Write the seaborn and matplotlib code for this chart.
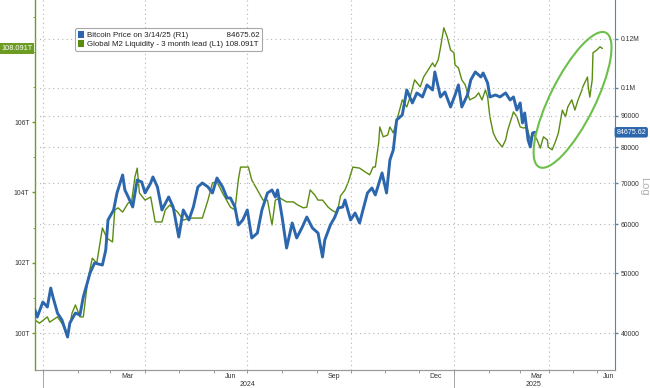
import numpy as np
import pandas as pd
import matplotlib
matplotlib.use("Agg")
import matplotlib.pyplot as plt
import matplotlib.dates as mdates
import matplotlib.ticker as mticker
from matplotlib.patches import Ellipse, Patch
import seaborn as sns

# Bitcoin price (R1, log scale)
btc_dates = [
    "2023-12-25", "2023-12-27", "2024-01-01", "2024-01-05", "2024-01-08", "2024-01-10",
    "2024-01-14", "2024-01-18", "2024-01-23", "2024-01-25", "2024-01-30", "2024-02-03",
    "2024-02-06", "2024-02-12", "2024-02-16", "2024-02-23", "2024-02-26", "2024-02-28",
    "2024-03-04", "2024-03-07", "2024-03-12", "2024-03-14", "2024-03-17", "2024-03-21",
    "2024-03-25", "2024-03-29", "2024-04-01", "2024-04-06", "2024-04-08", "2024-04-12",
    "2024-04-16", "2024-04-22", "2024-04-26", "2024-05-01", "2024-05-05", "2024-05-10",
    "2024-05-14", "2024-05-18", "2024-05-22", "2024-05-27", "2024-05-31", "2024-06-04",
    "2024-06-09", "2024-06-13", "2024-06-16", "2024-06-20", "2024-06-23", "2024-06-27",
    "2024-07-01", "2024-07-05", "2024-07-10", "2024-07-14", "2024-07-19", "2024-07-23",
    "2024-07-26", "2024-07-28", "2024-08-01", "2024-08-05", "2024-08-10", "2024-08-14",
    "2024-08-19", "2024-08-23", "2024-08-28", "2024-09-02", "2024-09-06", "2024-09-08",
    "2024-09-13", "2024-09-17", "2024-09-20", "2024-09-24", "2024-09-26", "2024-10-01",
    "2024-10-05", "2024-10-09", "2024-10-12", "2024-10-16", "2024-10-20", "2024-10-23",
    "2024-10-29", "2024-11-02", "2024-11-05", "2024-11-08", "2024-11-11", "2024-11-16",
    "2024-11-20", "2024-11-25", "2024-11-29", "2024-12-04", "2024-12-08", "2024-12-13",
    "2024-12-15", "2024-12-20", "2024-12-24", "2024-12-29", "2025-01-02", "2025-01-05",
    "2025-01-08", "2025-01-13", "2025-01-16", "2025-01-20", "2025-01-25", "2025-01-27",
    "2025-01-31", "2025-02-02", "2025-02-07", "2025-02-11", "2025-02-16", "2025-02-20",
    "2025-02-23", "2025-02-26", "2025-03-01", "2025-03-03", "2025-03-05", "2025-03-08",
    "2025-03-10", "2025-03-12", "2025-03-14",
]
btc_price = [
    43590, 42460, 44910, 44080, 47320, 45760,
    43100, 41990, 39410, 41520, 43100, 42780,
    45760, 50050, 51960, 51570, 54550, 61020,
    63340, 67500, 72190, 68260, 66500, 64060,
    70860, 70330, 67500, 70070, 71660, 69030,
    63340, 66500, 64060, 57260, 63340, 61020,
    64060, 69030, 70070, 69030, 67500, 71390,
    69030, 66250, 66250, 64060, 59890, 61020,
    63340, 57050, 58120, 63340, 67500, 68260,
    66500, 68260, 61700, 54950, 60340, 57050,
    59440, 61700, 59220, 58120, 53140, 56620,
    59890, 61700, 63820, 64060, 65750, 61020,
    62630, 60340, 63340, 67500, 68770, 67000,
    72740, 67500, 76360, 79270, 88670, 90340,
    99180, 94480, 98080, 96620, 101060, 99180,
    106080, 96620, 98440, 93070, 97350, 101060,
    93070, 97350, 102960, 106080, 104120, 105680,
    101810, 96620, 97350, 96620, 98080, 95540,
    96620, 92040, 94480, 87680, 91020, 82280,
    80160, 84460, 84675.62,
]

# Global M2 liquidity, 3 month lead (L1, trillions)
m2_dates = [
    "2023-12-25", "2023-12-29", "2024-01-05", "2024-01-07", "2024-01-14", "2024-01-19",
    "2024-01-23", "2024-01-27", "2024-01-30", "2024-02-03", "2024-02-06", "2024-02-10",
    "2024-02-14", "2024-02-18", "2024-02-23", "2024-02-27", "2024-03-03", "2024-03-05",
    "2024-03-08", "2024-03-12", "2024-03-17", "2024-03-20", "2024-03-23", "2024-03-25",
    "2024-03-27", "2024-04-01", "2024-04-06", "2024-04-10", "2024-04-16", "2024-04-19",
    "2024-04-23", "2024-04-30", "2024-05-05", "2024-05-11", "2024-05-22", "2024-05-27",
    "2024-05-31", "2024-06-04", "2024-06-09", "2024-06-16", "2024-06-20", "2024-06-23",
    "2024-06-25", "2024-07-02", "2024-07-05", "2024-07-10", "2024-07-15", "2024-07-19",
    "2024-07-23", "2024-07-26", "2024-07-30", "2024-08-05", "2024-08-11", "2024-08-15",
    "2024-08-20", "2024-08-23", "2024-08-26", "2024-08-30", "2024-09-02", "2024-09-06",
    "2024-09-11", "2024-09-14", "2024-09-19", "2024-09-22", "2024-09-26", "2024-09-29",
    "2024-10-03", "2024-10-09", "2024-10-14", "2024-10-18", "2024-10-21", "2024-10-23",
    "2024-10-26", "2024-10-27", "2024-10-30", "2024-11-03", "2024-11-05", "2024-11-08",
    "2024-11-12", "2024-11-16", "2024-11-20", "2024-11-23", "2024-11-27", "2024-12-02",
    "2024-12-05", "2024-12-09", "2024-12-13", "2024-12-15", "2024-12-18", "2024-12-20",
    "2024-12-23", "2024-12-26", "2024-12-29", "2025-01-01", "2025-01-02", "2025-01-05",
    "2025-01-08", "2025-01-11", "2025-01-15", "2025-01-20", "2025-01-23", "2025-01-26",
    "2025-01-29", "2025-01-31", "2025-02-02", "2025-02-05", "2025-02-08", "2025-02-13",
    "2025-02-16", "2025-02-18", "2025-02-23", "2025-02-26", "2025-03-01", "2025-03-04",
    "2025-03-07", "2025-03-10", "2025-03-12", "2025-03-17", "2025-03-21", "2025-03-25",
    "2025-03-30", "2025-03-31", "2025-04-05", "2025-04-09", "2025-04-13", "2025-04-18",
    "2025-04-22", "2025-04-25", "2025-04-30", "2025-05-04", "2025-05-08", "2025-05-13",
    "2025-05-14", "2025-05-20", "2025-05-21", "2025-05-23", "2025-05-26", "2025-05-27",
    "2025-06-01", "2025-06-05", "2025-06-08",
]
m2_value = [
    100.37, 100.28, 100.46, 100.31, 100.46, 100.23,
    99.89, 100.57, 100.80, 100.46, 100.46, 101.51,
    102.13, 101.99, 102.99, 102.70, 102.59, 103.50,
    103.56, 103.44, 103.70, 103.73, 104.44, 104.69,
    103.98, 103.78, 103.87, 103.16, 103.16, 103.50,
    103.64, 103.44, 103.21, 103.27, 103.27, 103.78,
    104.27, 104.30, 103.98, 103.58, 103.50, 104.35,
    104.72, 104.72, 104.35, 104.07, 103.78, 103.78,
    103.07, 103.78, 103.84, 103.73, 103.73, 103.64,
    103.56, 103.58, 104.07, 103.93, 103.78, 103.78,
    103.58, 103.50, 103.41, 103.90, 104.07, 104.30,
    104.72, 104.69, 104.58, 104.50, 104.72, 104.72,
    105.41, 105.86, 105.58, 105.63, 105.86, 105.69,
    106.15, 106.63, 106.43, 106.71, 107.20, 107.00,
    107.28, 107.48, 107.68, 107.57, 107.77, 108.11,
    108.68, 108.42, 108.05, 107.97, 107.62, 107.54,
    107.20, 107.06, 106.63, 106.71, 106.83, 106.63,
    106.91, 106.71, 106.15, 105.69, 105.49, 105.29,
    105.49, 105.78, 106.29, 106.15, 105.86, 105.83,
    105.86, 105.49, 105.69, 105.49, 105.26, 105.58,
    105.49, 105.29, 105.21, 105.43, 105.69, 106.34,
    106.15, 106.43, 106.63, 106.34, 106.63, 106.91,
    107.00, 107.28, 107.00, 106.71, 107.20, 107.97,
    108.05, 108.14, 108.091,
]

btc_last = 84675.62
m2_last = 108.091
btc_label = "Bitcoin Price on 3/14/25 (R1)"
m2_label = "Global M2 Liquidity - 3 month lead (L1)"

btc_ticks = [40000, 50000, 60000, 70000, 80000, 90000, 100000, 120000]
btc_tick_labels = ["40000", "50000", "60000", "70000", "80000", "90000", "0.1M", "0.12M"]
m2_ticks = [100, 102, 104, 106]
m2_minor_ticks = [101, 103, 105, 107, 108, 109]
month_label_dates = ["2024-03-16", "2024-06-16", "2024-09-16", "2024-12-16", "2025-03-16", "2025-06-16"]
month_labels = ["Mar", "Jun", "Sep", "Dec", "Mar", "Jun"]
year_label_dates = ["2024-07-01", "2025-03-13"]
year_labels = ["2024", "2025"]
year_starts = ["2024-01-01", "2025-01-01"]
quarter_starts = ["2024-01-01", "2024-04-01", "2024-07-01", "2024-10-01", "2025-01-01", "2025-04-01"]

blue = "#2c67ad"
green = "#5b8c12"
spine_green = "#6c9c22"
circle_green = "#6cc04a"
grid_col = "#b4b4b4"
text_col = "#333333"

btc_df = pd.DataFrame({"date": pd.to_datetime(btc_dates), "price": btc_price})
m2_df = pd.DataFrame({"date": pd.to_datetime(m2_dates), "value": m2_value})

sns.set_style("white")
plt.rcParams["font.family"] = ["Liberation Sans", "DejaVu Sans"]
fs_y = 4.9
fs_x = 5.0

fig = plt.figure(figsize=(6.5, 3.88), dpi=100)
ax = fig.add_axes([35 / 650, 18 / 388, 580 / 650, 370 / 388])
ax2 = ax.twinx()

sns.lineplot(data=m2_df, x="date", y="value", ax=ax, color=green, lw=1.0, legend=False)
sns.lineplot(data=btc_df, x="date", y="price", ax=ax2, color=blue, lw=2.1, legend=False)

# axis is point based: after the last bitcoin print only weekday M2 points remain
brk = mdates.date2num(pd.Timestamp("2025-03-14"))


def fwd(x):
    x = np.asarray(x, dtype=float)
    return np.where(x <= brk, x, brk + 0.7 * (x - brk))


def inv(y):
    y = np.asarray(y, dtype=float)
    return np.where(y <= brk, y, brk + (y - brk) / 0.7)


ax.set_xscale("function", functions=(fwd, inv))
ax.set_xlim(mdates.date2num(pd.Timestamp("2023-12-25")), mdates.date2num(pd.Timestamp("2025-06-24")))

ax.set_ylim(98.95, 109.47)
ax2.set_yscale("log")
ax2.set_ylim(34840, 138800)

# x axis
ax.xaxis.set_major_locator(mdates.MonthLocator())
ax.xaxis.set_major_formatter(mticker.NullFormatter())
ax.xaxis.set_minor_locator(mticker.FixedLocator(mdates.date2num(pd.to_datetime(month_label_dates))))
ax.xaxis.set_minor_formatter(mticker.FixedFormatter(month_labels))
ax.tick_params(axis="x", which="major", direction="out", length=2.5, width=0.6, color="#888888", bottom=True)
ax.tick_params(axis="x", which="minor", length=0, pad=2.0, labelsize=fs_x, labelcolor=text_col, bottom=True)
ax.set_xlabel("")
ax2.set_xlabel("")

xtrans = ax.get_xaxis_transform()
for d, lab in zip(year_label_dates, year_labels):
    ax.text(mdates.date2num(pd.Timestamp(d)), -0.038, lab, transform=xtrans, ha="center", va="center",
            fontsize=fs_x, color=text_col, clip_on=False)
for d in year_starts:
    ax.axvline(mdates.date2num(pd.Timestamp(d)), ymin=-0.05, ymax=0, color="#999999", lw=0.6, clip_on=False)
for d in quarter_starts:
    ax.axvline(mdates.date2num(pd.Timestamp(d)), color=grid_col, lw=0.8, ls=(0, (1, 3)), zorder=0)

# left axis (M2)
ax.yaxis.set_major_locator(mticker.FixedLocator(m2_ticks))
ax.yaxis.set_minor_locator(mticker.FixedLocator(m2_minor_ticks))
ax.yaxis.set_major_formatter(mticker.FuncFormatter(lambda v, p: f"{v:.0f}T"))
ax.tick_params(axis="y", which="major", direction="out", length=2.5, width=1.0, color=spine_green,
               labelsize=fs_y, labelcolor=text_col, pad=1.5, left=True)
ax.tick_params(axis="y", which="minor", direction="out", length=1.5, width=0.6, color=spine_green, left=True)
ax.set_ylabel("")

# right axis (BTC)
ax2.yaxis.set_major_locator(mticker.FixedLocator(btc_ticks))
ax2.yaxis.set_major_formatter(mticker.FixedFormatter(btc_tick_labels))
ax2.yaxis.set_minor_locator(mticker.NullLocator())
ax2.tick_params(axis="y", which="major", direction="out", length=2.5, width=1.0, color="#5a86ab",
                labelsize=fs_y, labelcolor=text_col, pad=1.5, right=True)
ax2.set_ylabel("")
ax2.yaxis.grid(True, color=grid_col, lw=0.8, ls=(0, (1, 3)))
ax2.set_axisbelow(True)

for a in (ax, ax2):
    a.spines["top"].set_visible(False)
    a.spines["bottom"].set_color("#9a9a9a")
    a.spines["bottom"].set_linewidth(0.8)
ax.spines["right"].set_visible(False)
ax2.spines["left"].set_visible(False)
ax.spines["left"].set_color(spine_green)
ax.spines["left"].set_linewidth(1.0)
ax2.spines["right"].set_color("#5a86ab")
ax2.spines["right"].set_linewidth(0.8)

# value tags
ax.annotate(f"{m2_last:.3f}T", xy=(0, m2_last), xycoords=ax.get_yaxis_transform(), xytext=(-2.0, 0),
            textcoords="offset points", ha="right", va="center", fontsize=5.3, color="white",
            bbox=dict(boxstyle="square,pad=0.25", fc=spine_green, ec="none"), annotation_clip=False)
ax2.annotate(f"{btc_last:.2f}", xy=(1, btc_last), xycoords=ax2.get_yaxis_transform(), xytext=(1.0, 0),
             textcoords="offset points", ha="left", va="center", fontsize=5.1, color="white",
             bbox=dict(boxstyle="round,pad=0.25,rounding_size=0.3", fc=blue, ec="none"), annotation_clip=False)

fig.text(0.991, 0.52, "Log", rotation=270, ha="center", va="center", fontsize=8, color="#b0b0b0")

# legend, values lined up on the right
handles = [Patch(facecolor=blue, edgecolor="none"), Patch(facecolor=green, edgecolor="none")]
labels = [btc_label + " " * 17 + f"{btc_last:.2f}", m2_label + " " + f"{m2_last:.3f}T"]
leg = ax2.legend(handles, labels, loc="upper left", bbox_to_anchor=(0.069, 0.923), borderaxespad=0,
                 fontsize=5.7, handlelength=0.8, handleheight=0.9, handletextpad=0.35,
                 labelspacing=0.12, borderpad=0.35, frameon=True, fancybox=True)
leg.get_frame().set_edgecolor("#a8a8a8")
leg.get_frame().set_linewidth(0.8)
leg.get_frame().set_alpha(1)
for t in leg.get_texts():
    t.set_color("#222222")

# highlight ellipse around the recent M2 rise
center = ax.transData.transform((mdates.date2num(pd.Timestamp("2025-05-01")), 106.63))
cx, cy = fig.dpi_scale_trans.inverted().transform(center)
ell = Ellipse((cx, cy), 1.50, 0.45, angle=63.6, transform=fig.dpi_scale_trans, fill=False,
              ec=circle_green, lw=1.5)
fig.add_artist(ell)

fig.savefig("out.png", dpi=100)
